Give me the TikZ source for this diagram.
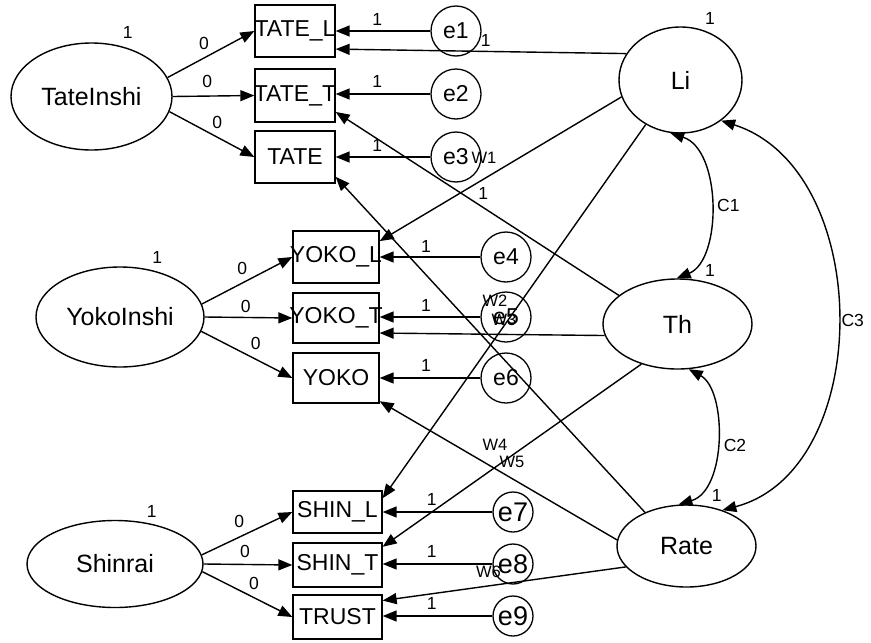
\documentclass[tikz,border=0pt]{standalone}
\usepackage{fontspec}
\setmainfont{Liberation Sans}
\usetikzlibrary{shapes.geometric,arrows.meta,calc}
\newcommand\fbig{\fontsize{23}{23}\selectfont}
\newcommand\flatent{\fontsize{25}{25}\selectfont}
\newcommand\ferr{\fontsize{27}{27}\selectfont}
\newcommand\fsmall{\fontsize{17.5}{17.5}\selectfont}
\newcommand\fweight{\fontsize{16.5}{16.5}\selectfont}
\begin{document}
\begin{tikzpicture}[x=1pt,y=-1pt,
  latent/.style={ellipse,draw,line width=1.4pt,inner sep=0pt,font=\flatent},
  obs/.style={rectangle,draw,line width=1.3pt,inner sep=0pt},
  err/.style={circle,draw,line width=1.3pt,inner sep=0pt,font=\fbig},
  path/.style={-{Triangle[length=14pt,width=11pt]},line width=1.4pt},
  cov/.style={{Triangle[length=14pt,width=11pt]}-{Triangle[length=14pt,width=11pt]},line width=1.4pt},
  lab/.style={inner sep=0pt,font=\fsmall},
  wlab/.style={inner sep=0pt,font=\fweight}]
\useasboundingbox (0,0) rectangle (871,643);

% latent variables
\node[latent,minimum width=161pt,minimum height=107pt] (TateInshi) at (91.5,96.5) {TateInshi};
\node[latent,minimum width=168pt,minimum height=100pt] (YokoInshi) at (120,317) {YokoInshi};
\node[latent,minimum width=176pt,minimum height=87pt] (Shinrai) at (115,564) {Shinrai};
\node[latent,minimum width=123pt,minimum height=106pt] (Li) at (680.5,80) {Li};
\node[latent,minimum width=149pt,minimum height=90pt] (Th) at (677.5,324) {Th};
\node[latent,minimum width=139pt,minimum height=82pt] (Rate) at (686.5,546) {Rate};

% observed variables
\node[obs,minimum width=80pt,minimum height=52pt,label={[font=\fbig]center:TATE\_L}] (TATE_L) at (295,31) {};
\node[obs,minimum width=80pt,minimum height=53pt,label={[font=\fbig]center:TATE\_T}] (TATE_T) at (295,95.5) {};
\node[obs,minimum width=80pt,minimum height=52pt,label={[font=\fbig]center:TATE}] (TATE) at (295,157) {};
\node[obs,minimum width=86pt,minimum height=52pt,label={[font=\fbig]center:YOKO\_L}] (YOKO_L) at (336,257) {};
\node[obs,minimum width=86pt,minimum height=50pt,label={[font=\fbig]center:YOKO\_T}] (YOKO_T) at (336,318) {};
\node[obs,minimum width=86pt,minimum height=50pt,label={[font=\fbig]center:YOKO}] (YOKO) at (336,378) {};
\node[obs,minimum width=89pt,minimum height=42pt,label={[font=\fbig]center:SHIN\_L}] (SHIN_L) at (337.5,512) {};
\node[obs,minimum width=89pt,minimum height=44pt,label={[font=\fbig]center:SHIN\_T}] (SHIN_T) at (337.5,565) {};
\node[obs,minimum width=89pt,minimum height=44pt,label={[font=\fbig]center:TRUST}] (TRUST) at (337.5,617) {};

% error terms
\node[err,minimum size=50pt] (e1) at (456,31) {e1};
\node[err,minimum size=50pt] (e2) at (456,94) {e2};
\node[err,minimum size=50pt] (e3) at (456,157) {e3};
\node[err,minimum size=50pt] (e4) at (506,257) {e4};
\node[err,minimum size=50pt] (e5) at (506,317) {e5};
\node[err,minimum size=50pt] (e6) at (506,378) {e6};
\node[err,minimum size=40pt,font=\ferr] (e7) at (513,512) {e7};
\node[err,minimum size=40pt,font=\ferr] (e8) at (513,564) {e8};
\node[err,minimum size=40pt,font=\ferr] (e9) at (513,616) {e9};

% intercept paths
\draw[path] (TateInshi.14.2) -- (TATE_L.west);
\draw[path] (TateInshi.0) -- (TATE_T.west);
\draw[path] (TateInshi.-11.2) -- (TATE.west);
\draw[path] (YokoInshi.9.8) -- (YOKO_L.west);
\draw[path] (YokoInshi.0) -- (YOKO_T.west);
\draw[path] (YokoInshi.-10.9) -- (YOKO.west);
\draw[path] (Shinrai.6.6) -- (SHIN_L.west);
\draw[path] (Shinrai.0) -- (SHIN_T.west);
\draw[path] (Shinrai.-5.9) -- (TRUST.west);

% error paths
\foreach \e/\b in {e1/TATE_L,e2/TATE_T,e3/TATE,e4/YOKO_L,e5/YOKO_T,e6/YOKO,e7/SHIN_L,e8/SHIN_T,e9/TRUST}
  \draw[path] (\e) -- (\e -| \b.east);

% slope paths
\draw[path] (Li.154.5) -- (TATE_L.-24.2);
\draw[path] (Li.-164.1) -- (YOKO_L.20.4);
\draw[path] (Li.232.3) -- (SHIN_L.17.1);
\draw[path] (Th.154.3) -- (TATE_T.-22.4);
\draw[path] (Th.-171.4) -- (YOKO_T.-19.2);
\draw[path] (Th.228.9) -- (SHIN_T.22);
\draw[path] (Rate.141.3) -- (TATE.-26.6);
\draw[path] (Rate.175.7) -- (YOKO.-28.1);
\draw[path] (Rate.199.1) -- (TRUST.20.9);

% covariances
\draw[cov] (Li.-101.4) .. controls (722,150) and (722,260) .. (Th.91.9);
\draw[cov] (Th.-76.9) .. controls (727,390) and (727,490) .. (Rate.101.7);
\draw[cov] (Li.-45) .. controls (875,170) and (875,470) .. (Rate.45.4);

% variances
\node[lab] at (127.7,32.3) {1};
\node[lab] at (157.3,257.3) {1};
\node[lab] at (151.7,511.7) {1};
\node[lab] at (710,18.3) {1};
\node[lab] at (710,270) {1};
\node[lab] at (716.7,495) {1};

% intercept labels
\node[lab] at (204,43.3) {0};
\node[lab] at (207.3,81) {0};
\node[lab] at (217.3,122.3) {0};
\node[lab] at (242.3,268.3) {0};
\node[lab] at (245.7,306) {0};
\node[lab] at (255.7,343.3) {0};
\node[lab] at (239.3,521.7) {0};
\node[lab] at (245,551.7) {0};
\node[lab] at (254,583.3) {0};

% error path labels
\node[lab] at (377.3,19) {1};
\node[lab] at (377.3,81) {1};
\node[lab] at (377.3,145.7) {1};
\node[lab] at (426,246) {1};
\node[lab] at (426,305) {1};
\node[lab] at (426,365) {1};
\node[lab] at (431.7,499.3) {1};
\node[lab] at (431.7,551.7) {1};
\node[lab] at (431.7,603.3) {1};

% slope labels
\node[lab] at (485.7,40) {1};
\node[lab] at (483.3,193.3) {1};
\node[wlab] at (484,157.5) {W1};
\node[wlab] at (495,301) {W2};
\node[wlab] at (504,320) {W3};
\node[wlab] at (495,445) {W4};
\node[wlab] at (512,462) {W5};
\node[wlab] at (488.5,572) {W6};

% covariance labels
\node[lab] at (728.3,205) {C1};
\node[lab] at (735,445) {C2};
\node[lab] at (852.7,320) {C3};
\end{tikzpicture}
\end{document}
